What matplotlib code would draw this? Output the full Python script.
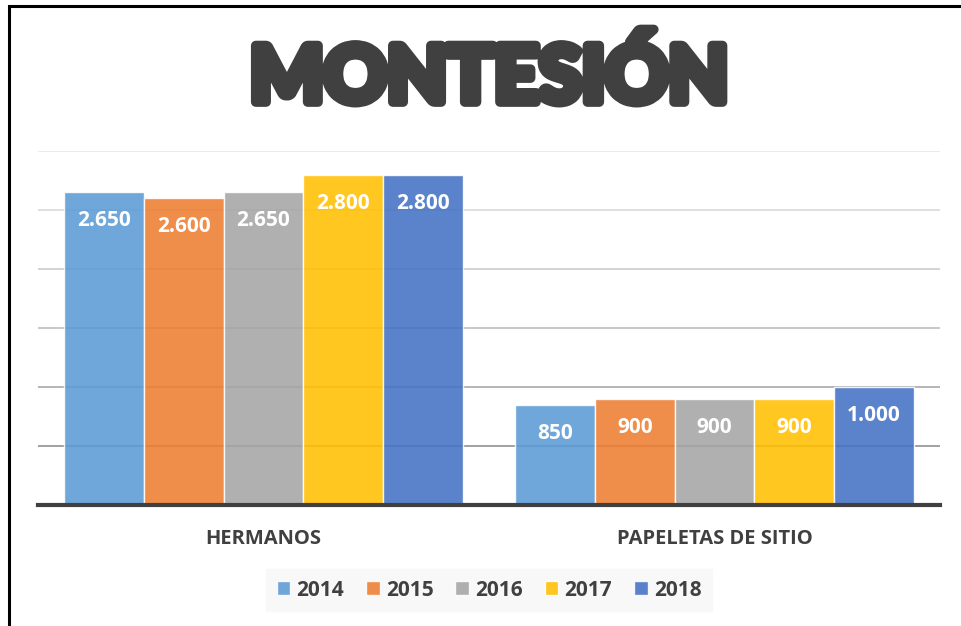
import matplotlib
matplotlib.use("Agg")
from matplotlib import pyplot as plt
from matplotlib import patheffects
from matplotlib.patches import Rectangle
import numpy as np

categorias = ["HERMANOS", "PAPELETAS DE SITIO"]
anios = ["2014", "2015", "2016", "2017", "2018"]
valores = {
    "2014": [2650, 850],
    "2015": [2600, 900],
    "2016": [2650, 900],
    "2017": [2800, 900],
    "2018": [2800, 1000],
}
etiquetas = {
    "2014": ["2.650", "850"],
    "2015": ["2.600", "900"],
    "2016": ["2.650", "900"],
    "2017": ["2.800", "900"],
    "2018": ["2.800", "1.000"],
}
colores = ["#5B9BD5", "#ED7D31", "#A5A5A5", "#FFC000", "#4472C4"]
grid_vals = [500, 1000, 1500, 2000, 2500, 3000]
grid_cols = ["#9a9a9a", "#b0b0b0", "#c4c4c4", "#d0d0d0", "#dcdcdc", "#e8e8e8"]

plt.rcParams['font.family'] = ['Open Sans', 'DejaVu Sans']

fig = plt.figure(figsize=(9.62, 6.26), dpi=100)
ax = fig.add_axes([38/962, 1-505/626, (940-38)/962, (505-151)/626])

x = np.arange(len(categorias))
ancho = 0.1765
for i, a in enumerate(anios):
    pos = x + (i - 2) * ancho
    barras = ax.bar(pos, valores[a], ancho, color=colores[i], alpha=0.88,
                    edgecolor=(1, 1, 1, 0.6), linewidth=1, zorder=2, label=a)
    for b, txt in zip(barras, etiquetas[a]):
        ax.annotate(txt, (b.get_x() + b.get_width()/2, b.get_height()),
                    xytext=(0, -20.5), textcoords="offset points",
                    ha="center", va="center", color="white",
                    fontsize=15, fontweight="bold", zorder=4)

for v, c in zip(grid_vals, grid_cols):
    ax.axhline(v, color=c, linewidth=1.3, zorder=1)

ax.set_xlim(-0.5, 1.5)
ax.set_ylim(0, 3000)
for s in ["top", "right", "left"]:
    ax.spines[s].set_visible(False)
ax.spines["bottom"].set_color("#404040")
ax.spines["bottom"].set_linewidth(3)
ax.spines["bottom"].set_zorder(5)
ax.set_yticks([])
ax.set_xticks(x)
ax.set_xticklabels(categorias, fontsize=14.5, fontweight="bold", color="#404040")
ax.tick_params(axis="x", length=0, pad=17)

fig.text(489/962, 1-102/626, "MONTESIÓN", ha="center", va="baseline",
         fontsize=56, fontweight="black", color="#404040", family=["Lato", "DejaVu Sans"],
         path_effects=[patheffects.withStroke(linewidth=7, foreground="#404040")])

leg = fig.legend(loc="center", bbox_to_anchor=(489/962, 1-590/626), ncol=5,
                 frameon=True, fancybox=False, facecolor="#f8f8f8", edgecolor="#f8f8f8",
                 handlelength=0.65, handleheight=0.65, handletextpad=0.3,
                 columnspacing=1.05, borderpad=0.5,
                 prop={"size": 15, "weight": "bold"})
for t in leg.get_texts():
    t.set_color("#404040")
leg.get_frame().set_alpha(1)

fig.patches.append(Rectangle((9/962, -0.1), 1.2, 1.1 - 6/626, transform=fig.transFigure,
                             fill=False, edgecolor="black", linewidth=2.2, clip_on=False))

plt.savefig("out.png", dpi=100)
